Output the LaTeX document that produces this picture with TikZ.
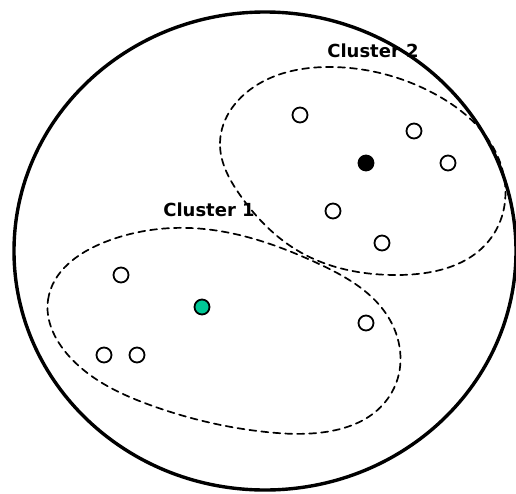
\documentclass[tikz,border=0pt]{standalone}
\usepackage{fontspec}
\usetikzlibrary{hobby}
\newfontfamily\labelfont{DejaVu Sans}
\definecolor{meangreen}{RGB}{0,200,150}
\tikzset{
	obs/.style={circle, draw, line width=1.8pt, fill=white, minimum size=15pt, inner sep=0pt},
	mean/.style={obs, fill=#1},
	clusterline/.style={line width=1.7pt, dash pattern=on 7pt off 5pt, use Hobby shortcut, closed=true},
	clusterlabel/.style={font=\labelfont\bfseries\fontsize{18}{20}\selectfont, inner sep=0pt}
}
\begin{document}
\begin{tikzpicture}[x=1pt, y=-1pt, line join=round, line cap=round]
	\useasboundingbox (0,0) rectangle (516,493);
	\begin{scope}
		\clip (0,0) rectangle (516,493);
		\draw[line width=3.4pt] (265,251) ellipse [x radius=251, y radius=239];
	\end{scope}
	% the two clusters
	\draw[clusterline] (220,143) .. (262,82) .. (330,67) .. (433,93) .. (501,165) .. (491,238) .. (397,275) .. (300,252) .. (240,195);
	\draw[clusterline] (48,300) .. (105,242) .. (190,228) .. (317,263) .. (390,320) .. (392,392) .. (277,433) .. (150,405) .. (68,355);
	\node[clusterlabel] (lab1) at (209,210) {Cluster 1};
	\node[clusterlabel] (lab2) at (373,51) {Cluster 2};
	% cluster 2 points
	\node[obs] (b1) at (300,115) {};
	\node[obs] (b2) at (414,131) {};
	\node[obs] (b3) at (448,163) {};
	\node[obs] (b4) at (333,211) {};
	\node[obs] (b5) at (382,243) {};
	\node[mean=black] (m2) at (366,163) {};
	% cluster 1 points
	\node[obs] (a1) at (121,275) {};
	\node[obs] (a2) at (366,323) {};
	\node[obs] (a3) at (104,355) {};
	\node[obs] (a4) at (137,355) {};
	\node[mean=meangreen] (m1) at (202,307) {};
\end{tikzpicture}
\end{document}
